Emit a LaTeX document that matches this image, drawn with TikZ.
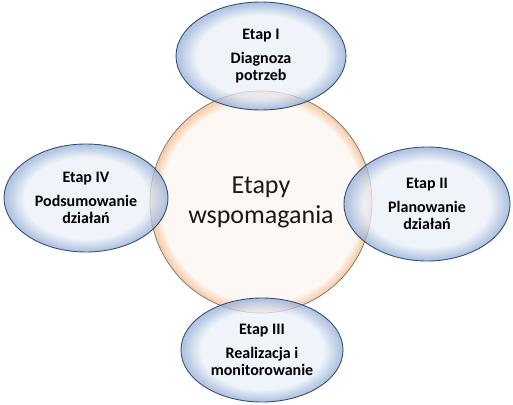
\documentclass[tikz,border=0pt]{standalone}
\usepackage{fontspec}
\setmainfont{Carlito}
\usetikzlibrary{shapes.geometric}
\definecolor{peachin}{HTML}{FDF8F3}
\definecolor{peachout}{HTML}{F7CFB0}
\definecolor{peachline}{HTML}{7E6D62}
\definecolor{bluein}{HTML}{E9EFF8}
\definecolor{blueout}{HTML}{98B1D7}
\definecolor{blueline}{HTML}{34507A}
\pgfdeclareradialshading{peachring}{\pgfpoint{0bp}{0bp}}{color(0bp)=(peachin); color(22.6bp)=(peachin); color(24.6bp)=(peachout); color(25bp)=(peachout); color(50bp)=(peachout)}
\pgfdeclareradialshading{bluering}{\pgfpoint{0bp}{0bp}}{color(0bp)=(bluein); color(19bp)=(bluein); color(24.3bp)=(blueout); color(25bp)=(blueout); color(50bp)=(blueout)}
\begin{document}
\begin{tikzpicture}[x=1pt,y=-1pt]
              \useasboundingbox (0,0) rectangle (513,404);
              \node[circle,minimum size=222pt,draw=peachline,line width=0.7pt,shading=peachring,
                    align=center,text=black!90,font=\fontsize{26}{30}\selectfont] (etapy) at (261,202) {Etapy\\wspomagania};
              \foreach \x/\y/\rx/\ry/\name/\txt in {261/56/85/54/etapI/{Etap I\\[7pt]Diagnoza\\potrzeb},
                                                   427/204/83/57/etapII/{Etap II\\[7pt]Planowanie\\działań},
                                                   262/350/81/52/etapIII/{Etap III\\[7pt]Realizacja i\\monitorowanie},
                                                   86/198/82/54/etapIV/{Etap IV\\[7pt]Podsumowanie\\działań}} {
                  \node[ellipse,minimum width=\rx*2pt,minimum height=\ry*2pt,inner sep=0pt,
                        draw=blueline,line width=0.9pt,shading=bluering,fill opacity=0.75,text opacity=1,
                        align=center,font=\bfseries\fontsize{16}{17}\selectfont] (\name) at (\x,\y) {\txt};
              }
        \end{tikzpicture}
\end{document}
